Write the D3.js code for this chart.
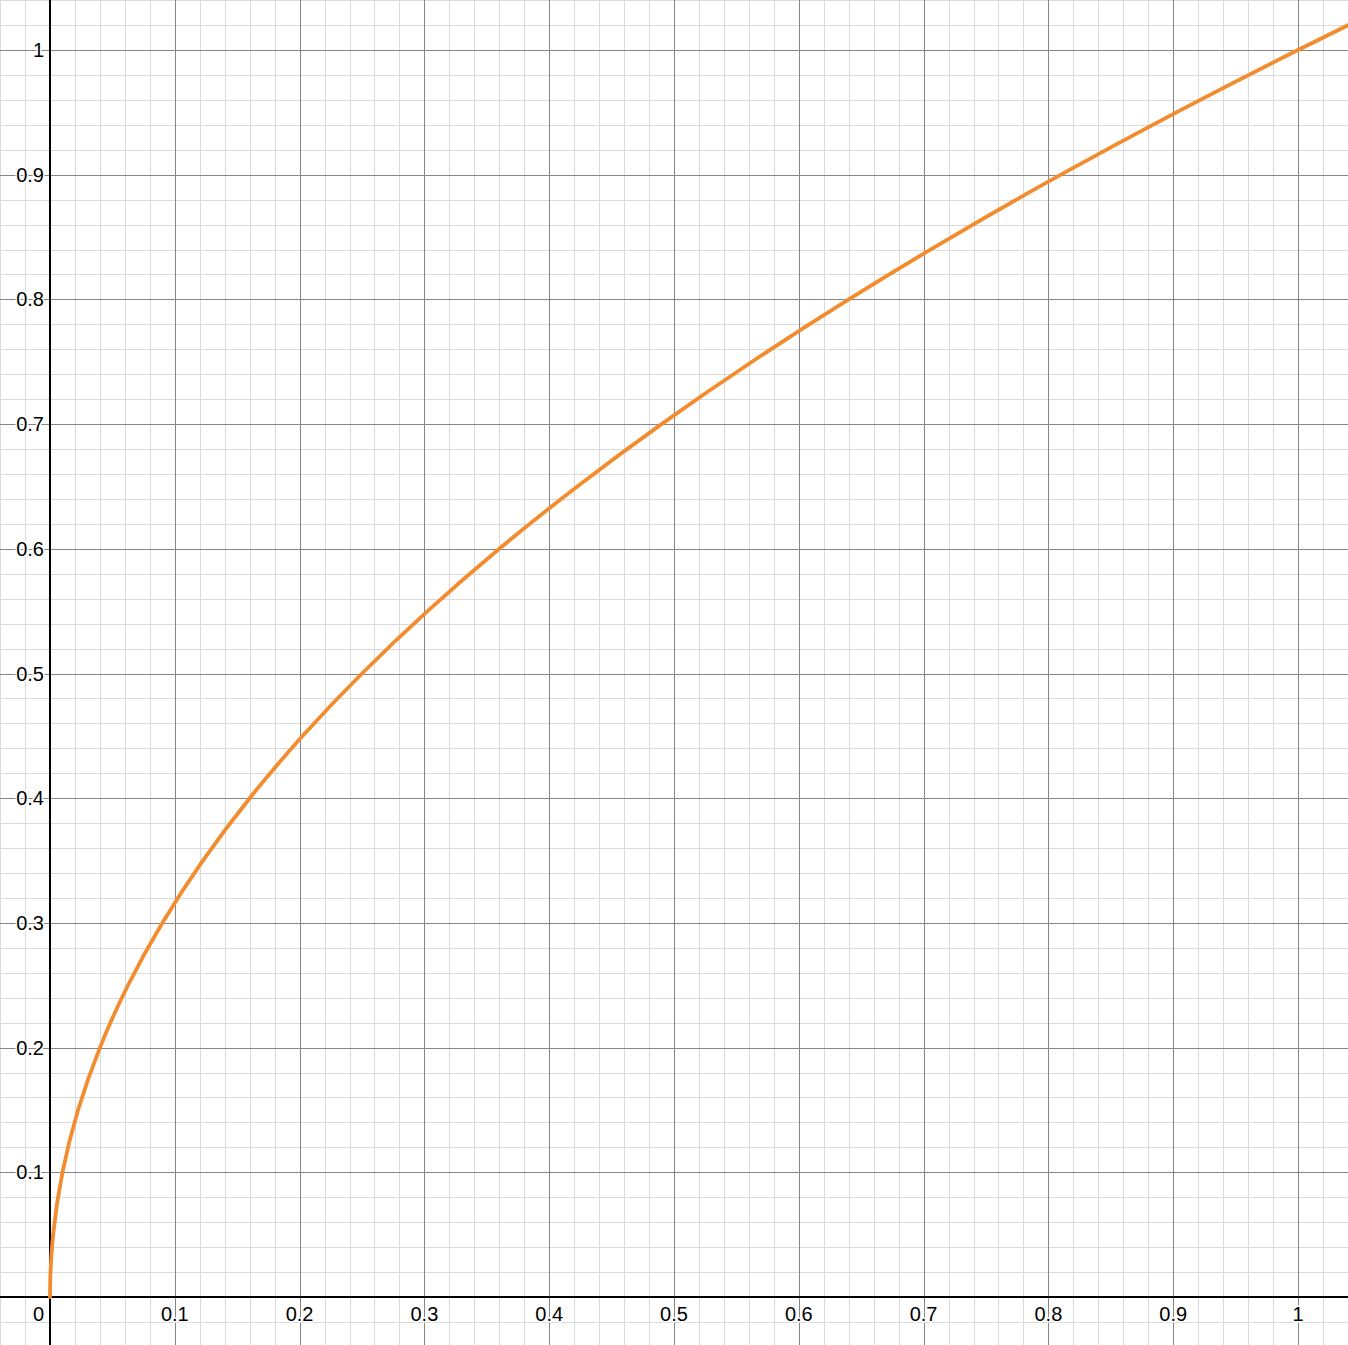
<!DOCTYPE html>
<html><head><meta charset="utf-8">
<script src="https://cdn.jsdelivr.net/npm/d3@7"></script>
<style>
html,body{margin:0;padding:0;background:#fff;overflow:hidden}
svg{display:block}
text{font-family:"Liberation Sans",Arial,Helvetica,sans-serif}
</style></head><body>
<svg id="chart" width="1348" height="1345"></svg>
<script>
// Points
const curveX = [0, 0.0004, 0.0025, 0.01, 0.0225, 0.04, 0.0625, 0.09, 0.1225, 0.16, 0.2025, 0.25, 0.3025, 0.36, 0.4225, 0.49, 0.5625, 0.64, 0.7225, 0.81, 0.9025, 1.0, 1.04];
const curveY = [0, 0.02, 0.05, 0.1, 0.15, 0.2, 0.25, 0.3, 0.35, 0.4, 0.45, 0.5, 0.55, 0.6, 0.65, 0.7, 0.75, 0.8, 0.85, 0.9, 0.95, 1.0, 1.0198];
const xTickLabels = ["0.1","0.2","0.3","0.4","0.5","0.6","0.7","0.8","0.9","1"];
const yTickLabels = ["0.1","0.2","0.3","0.4","0.5","0.6","0.7","0.8","0.9","1"];
const originLabel = "0";

const W = 1348, H = 1345;
const svg = d3.select("#chart");
const x = d3.scaleLinear().domain([0, 1]).range([50, 1298]);
const y = d3.scaleLinear().domain([0, 1]).range([1297, 50]);

const xDom = [x.invert(0), x.invert(W)];
const yDom = [y.invert(H), y.invert(0)];

// minor grid
const minorStep = 0.02;
const minorX = d3.range(Math.ceil(xDom[0]/minorStep), Math.floor(xDom[1]/minorStep)+1).map(i => i*minorStep);
const minorY = d3.range(Math.ceil(yDom[0]/minorStep), Math.floor(yDom[1]/minorStep)+1).map(i => i*minorStep);
const g = svg.append("g");
g.selectAll(".mx").data(minorX).join("line")
  .attr("x1", d => Math.round(x(d))+0.5).attr("x2", d => Math.round(x(d))+0.5)
  .attr("y1", 0).attr("y2", H).attr("stroke", "#dadada").attr("stroke-width", 1);
g.selectAll(".my").data(minorY).join("line")
  .attr("y1", d => Math.round(y(d))+0.5).attr("y2", d => Math.round(y(d))+0.5)
  .attr("x1", 0).attr("x2", W).attr("stroke", "#dadada").attr("stroke-width", 1);

// major grid
const majorStep = 0.1;
const majorX = d3.range(Math.ceil(xDom[0]/majorStep), Math.floor(xDom[1]/majorStep)+1).map(i => i*majorStep);
const majorY = d3.range(Math.ceil(yDom[0]/majorStep), Math.floor(yDom[1]/majorStep)+1).map(i => i*majorStep);
g.selectAll(".Mx").data(majorX).join("line")
  .attr("x1", d => Math.round(x(d))+0.5).attr("x2", d => Math.round(x(d))+0.5)
  .attr("y1", 0).attr("y2", H).attr("stroke", "#868686").attr("stroke-width", 1);
g.selectAll(".My").data(majorY).join("line")
  .attr("y1", d => Math.round(y(d))+0.5).attr("y2", d => Math.round(y(d))+0.5)
  .attr("x1", 0).attr("x2", W).attr("stroke", "#868686").attr("stroke-width", 1);

// axes
svg.append("line").attr("x1", 0).attr("x2", W).attr("y1", y(0)).attr("y2", y(0))
  .attr("stroke", "#000").attr("stroke-width", 2);
svg.append("line").attr("x1", x(0)).attr("x2", x(0)).attr("y1", 0).attr("y2", H)
  .attr("stroke", "#000").attr("stroke-width", 2);

// labels
const lab = svg.append("g").attr("font-size", 20).attr("fill", "#000")
  .attr("stroke", "#fff").attr("stroke-width", 3).attr("paint-order", "stroke").attr("stroke-linejoin","round");
lab.selectAll(".xl").data(xTickLabels).join("text")
  .attr("x", d => x(+d)).attr("y", y(0) + 24)
  .attr("text-anchor", "middle").text(d => d);
lab.selectAll(".yl").data(yTickLabels).join("text")
  .attr("x", x(0) - 6).attr("y", d => y(+d)).attr("dy", "0.35em")
  .attr("text-anchor", "end").text(d => d);
lab.append("text").attr("x", x(0) - 6).attr("y", y(0) + 24)
  .attr("text-anchor", "end").text(originLabel);

// curve
const pts = curveX.map((d, i) => [d, curveY[i]]);
const line = d3.line().x(d => x(d[0])).y(d => y(d[1])).curve(d3.curveMonotoneY);
svg.append("path").datum(pts).attr("d", line)
  .attr("fill", "none").attr("stroke", "#f28c2e").attr("stroke-width", 3.8)
  .attr("stroke-linecap", "round").attr("stroke-linejoin", "round");
</script>
</body></html>
